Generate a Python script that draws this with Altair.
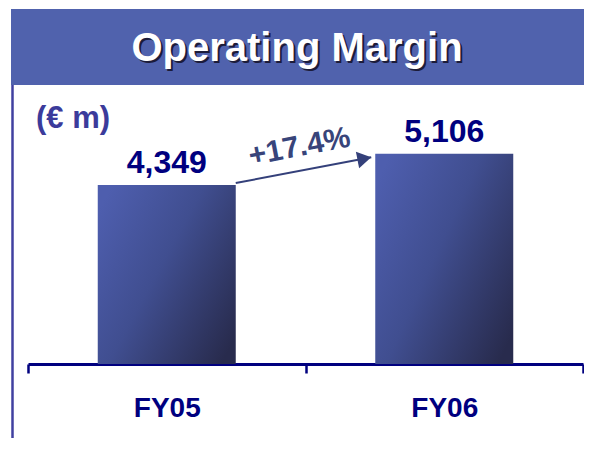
import altair as alt
import pandas as pd

categories = ["FY05", "FY06"]
values = [4349, 5106]
value_labels = ["4,349", "5,106"]
growth_label = "+17.4%"
title_text = "Operating Margin"
unit_text = "(€ m)"

bars = pd.DataFrame({"year": categories, "value": values, "label": value_labels})
arrow = pd.DataFrame({"year": [categories[0]], "year_end": [categories[1]],
                      "value": [values[0]], "value_end": [values[1]], "label": [growth_label]})
head = pd.DataFrame({"year": [categories[1]], "value": [values[1]]})
texts = pd.DataFrame({"title": [title_text], "unit": [unit_text]})

FONT = "Liberation Sans"
NAVY = "#00007f"
ARROW = "#34407a"

xscale = alt.Scale(domain=categories, range=[20, 575], paddingInner=0, paddingOuter=0)
yscale = alt.Scale(domain=[0, 8650], nice=False, zero=True)


def xaxis():
    return alt.Axis(
        title=None, labelAngle=0, domainColor=NAVY, domainWidth=3, tickColor=NAVY,
        tickWidth=2.5, tickSize=9, tickBand="extent", labelFont=FONT, labelFontSize=28,
        labelFontWeight="bold", labelColor=NAVY, labelPadding=21, grid=False)


def xenc(**kw):
    return alt.X("year:N", scale=xscale, axis=xaxis(), **kw)


y_main = alt.Y("value:Q", scale=yscale, axis=None)

grad = alt.LinearGradient(
    gradient="linear",
    stops=[alt.GradientStop(color="#4e5eae", offset=0),
           alt.GradientStop(color="#404e90", offset=0.45),
           alt.GradientStop(color="#282b4d", offset=1)],
    x1=0, y1=0.15, x2=1, y2=0.85)

banner = alt.Chart(texts).mark_rect(color="#5062ad").encode(
    x=alt.value(3), x2=alt.value(576), y=alt.value(1), y2=alt.value(77))

left_line = alt.Chart(texts).mark_rule(color="#4040a0", strokeWidth=2.5).encode(
    x=alt.value(4.5), y=alt.value(77), y2=alt.value(430))

title_shadow = alt.Chart(texts).mark_text(
    font=FONT, fontSize=40, fontWeight="bold", color="#1c1c3a",
    align="center", baseline="alphabetic").encode(
    x=alt.value(291), y=alt.value(55), text="title:N")

title = alt.Chart(texts).mark_text(
    font=FONT, fontSize=40, fontWeight="bold", color="#ffffff",
    align="center", baseline="alphabetic").encode(
    x=alt.value(289), y=alt.value(53), text="title:N")

unit = alt.Chart(texts).mark_text(
    font=FONT, fontSize=31, fontWeight="bold", color="#3b3b9b",
    align="left", baseline="alphabetic").encode(
    x=alt.value(28), y=alt.value(120), text="unit:N")

bar = alt.Chart(bars).mark_bar(size=138, color=grad).encode(x=xenc(), y=y_main)

vlab = alt.Chart(bars).mark_text(
    font=FONT, fontSize=32, fontWeight="bold", color=NAVY,
    align="center", baseline="alphabetic", dy=-12).encode(
    x=xenc(), y=y_main, text="label:N")

rule = alt.Chart(arrow).mark_rule(
    color=ARROW, strokeWidth=2, xOffset=69, x2Offset=-73, yOffset=-2, y2Offset=3.5).encode(
    x=xenc(),
    x2="year_end:N",
    y=y_main,
    y2="value_end:Q")

arrow_head = alt.Chart(head).mark_point(
    shape="M0,0 L-1,-0.6 L-1,0.6 Z", size=784, filled=True, opacity=1,
    color=ARROW, strokeWidth=0, angle=349, xOffset=-73, yOffset=3.5).encode(
    x=xenc(), y=y_main)

pct = alt.Chart(arrow).mark_text(
    font=FONT, fontSize=30, fontWeight="bold", color="#38447a", angle=349,
    align="center", baseline="middle", xOffset=-6, yOffset=-38).encode(
    x=xenc(bandPosition=1),
    y=y_main,
    text="label:N")

chart = alt.layer(
    banner, left_line, title_shadow, title, unit, bar, vlab, rule, arrow_head, pct
).properties(
    width=576, height=356,
    autosize=alt.AutoSizeParams(type="none"),
    padding={"left": 0, "top": 0, "right": 0, "bottom": 74},
    background="#ffffff",
).configure_view(stroke="transparent")

chart.save("out.html", embed_options={"renderer": "svg", "actions": False})
